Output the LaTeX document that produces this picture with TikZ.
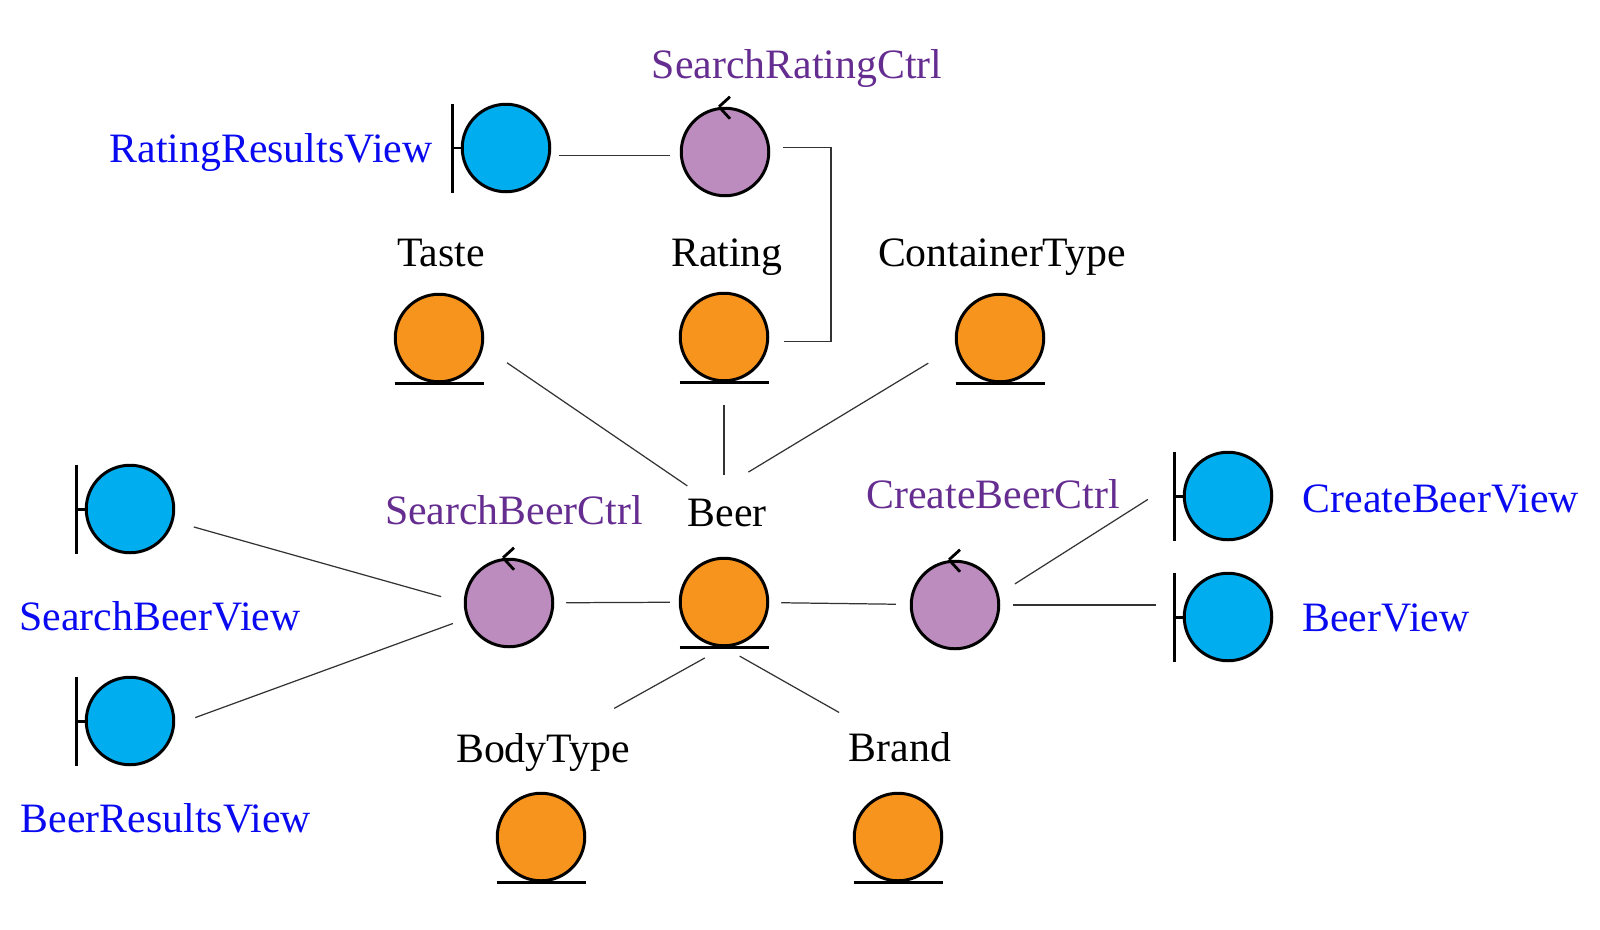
\documentclass[tikz,border=0pt]{standalone}
\usepackage{fontspec}
\setmainfont{Liberation Serif}
\usetikzlibrary{calc}
\definecolor{entorange}{RGB}{247,148,30}
\definecolor{ctrlpurple}{RGB}{189,140,191}
\definecolor{viewcyan}{RGB}{0,174,239}
\definecolor{bluetext}{RGB}{10,10,240}
\definecolor{purpletext}{RGB}{102,45,145}
\tikzset{every picture/.style={/utils/exec={\fontsize{23.8}{28}\selectfont}}}
\tikzset{
    shape base/.style={circle, draw, line width=1.7pt, minimum size=17.5mm, inner sep=0pt},
    entnode/.style={shape base, fill=entorange,
        append after command={([xshift=-8.9mm]\tikzlastnode.south) edge [draw=black, line width=1.7pt] ([xshift=8.9mm]\tikzlastnode.south)}},
    ctrlnode/.style={shape base, fill=ctrlpurple,
        append after command={([xshift=-1.2mm]\tikzlastnode.north) edge [draw=black, line width=1.6pt] ([xshift=1mm, yshift=2mm]\tikzlastnode.north)
            edge [draw=black, line width=1.6pt] ([xshift=1mm, yshift=-2.4mm]\tikzlastnode.north)}},
    bndnode/.style={shape base, fill=viewcyan,
        append after command={([xshift=-1.6mm, yshift=8.9mm]\tikzlastnode.west) edge [draw=black, line width=1.7pt] ([xshift=-1.6mm, yshift=-8.9mm]\tikzlastnode.west)
            ([xshift=-1.6mm]\tikzlastnode.west) edge [draw=black, line width=1.7pt] (\tikzlastnode.west)}},
    label base/.style={text depth=0pt},
    enttext/.style={label base, text=black},
    ctrltext/.style={label base, text=purpletext},
    bndtext/.style={label base, text=bluetext},
    conn/.style={draw=black!80, line width=0.7pt}
}

\begin{document}
\begin{tikzpicture}[x=0.2mm, y=-0.2mm]
    \useasboundingbox (0,0) rectangle (1600,929);
    \foreach \n/\x/\y in {Taste/439/338, Rating/724/337, CType/1000/338, Beer/724/602, Body/541/837, Brand/898/837}{
        \node [entnode] (\n) at (\x, \y) {};
    }
    \foreach \n/\x/\y in {SRC/725/152, SBC/509/603, CBC/955/605}{
        \node [ctrlnode] (\n) at (\x, \y) {};
    }
    \foreach \n/\x/\y in {RRV/506/148, SBV/130/509, BRV/130/721, CBV/1228/496, BV/1228/617}{
        \node [bndnode] (\n) at (\x, \y) {};
    }
    \node [enttext] (lTaste) at (441, 253) {Taste};
    \node [enttext] (lRating) at (727, 253) {Rating};
    \node [enttext] (lCType) at (1002, 253) {ContainerType};
    \node [enttext] (lBeer) at (727, 513) {Beer};
    \node [enttext] (lBody) at (543, 748) {BodyType};
    \node [enttext] (lBrand) at (900, 747) {Brand};
    \node [ctrltext] (lSRC) at (797, 64) {SearchRatingCtrl};
    \node [ctrltext] (lSBC) at (514, 510) {SearchBeerCtrl};
    \node [ctrltext] (lCBC) at (993, 494) {CreateBeerCtrl};
    \node [bndtext] (lRRV) at (271, 148) {RatingResultsView};
    \node [bndtext] (lSBV) at (160, 616) {SearchBeerView};
    \node [bndtext] (lBRV) at (166, 818) {BeerResultsView};
    \node [bndtext] (lCBV) at (1441, 499) {CreateBeerView};
    \node [bndtext] (lBV) at (1386, 618) {BeerView};
    \draw [conn, shorten <=1.6mm, shorten >=2mm] (RRV.-10) -- (RRV.-10 -| SRC.west);
    \draw [conn] ([xshift=2.6mm]SRC.6) -- ++(48, 0) |- ([xshift=3mm]Rating.-6);
    \draw [conn, shorten <=5.7mm, shorten >=9.6mm] (Taste.-11) -- (lBeer.center);
    \draw [conn, shorten <=4.6mm, shorten >=2mm] (Rating.south) -- (Rating.south |- lBeer.north);
    \draw [conn, shorten <=6.4mm, shorten >=5mm] (CType.-169) -- (lBeer.north);
    \draw [conn, shorten <=4.2mm, shorten >=4.7mm] (SBV) -- (SBC.west);
    \draw [conn, shorten <=4.3mm, shorten >=2.9mm] (BRV.-5) -- (SBC);
    \draw [conn, shorten <=2.4mm, shorten >=1.8mm] (SBC) -- (Beer);
    \draw [conn, shorten <=2.4mm, shorten >=2.8mm] (Beer) -- (CBC);
    \draw [conn, shorten <=3.8mm, shorten >=9.7mm] (CBC.14) -- (CBV.150);
    \draw [conn, shorten <=2.6mm, shorten >=5.4mm] (CBC.east) -- (CBC.east -| BV.west);
    \draw [conn, shorten <=4.4mm, shorten >=16.3mm] (Beer.south) -- (lBody.center);
    \draw [conn, shorten <=3.6mm, shorten >=14mm] (Beer.south) -- (lBrand.center);
\end{tikzpicture}
\end{document}
